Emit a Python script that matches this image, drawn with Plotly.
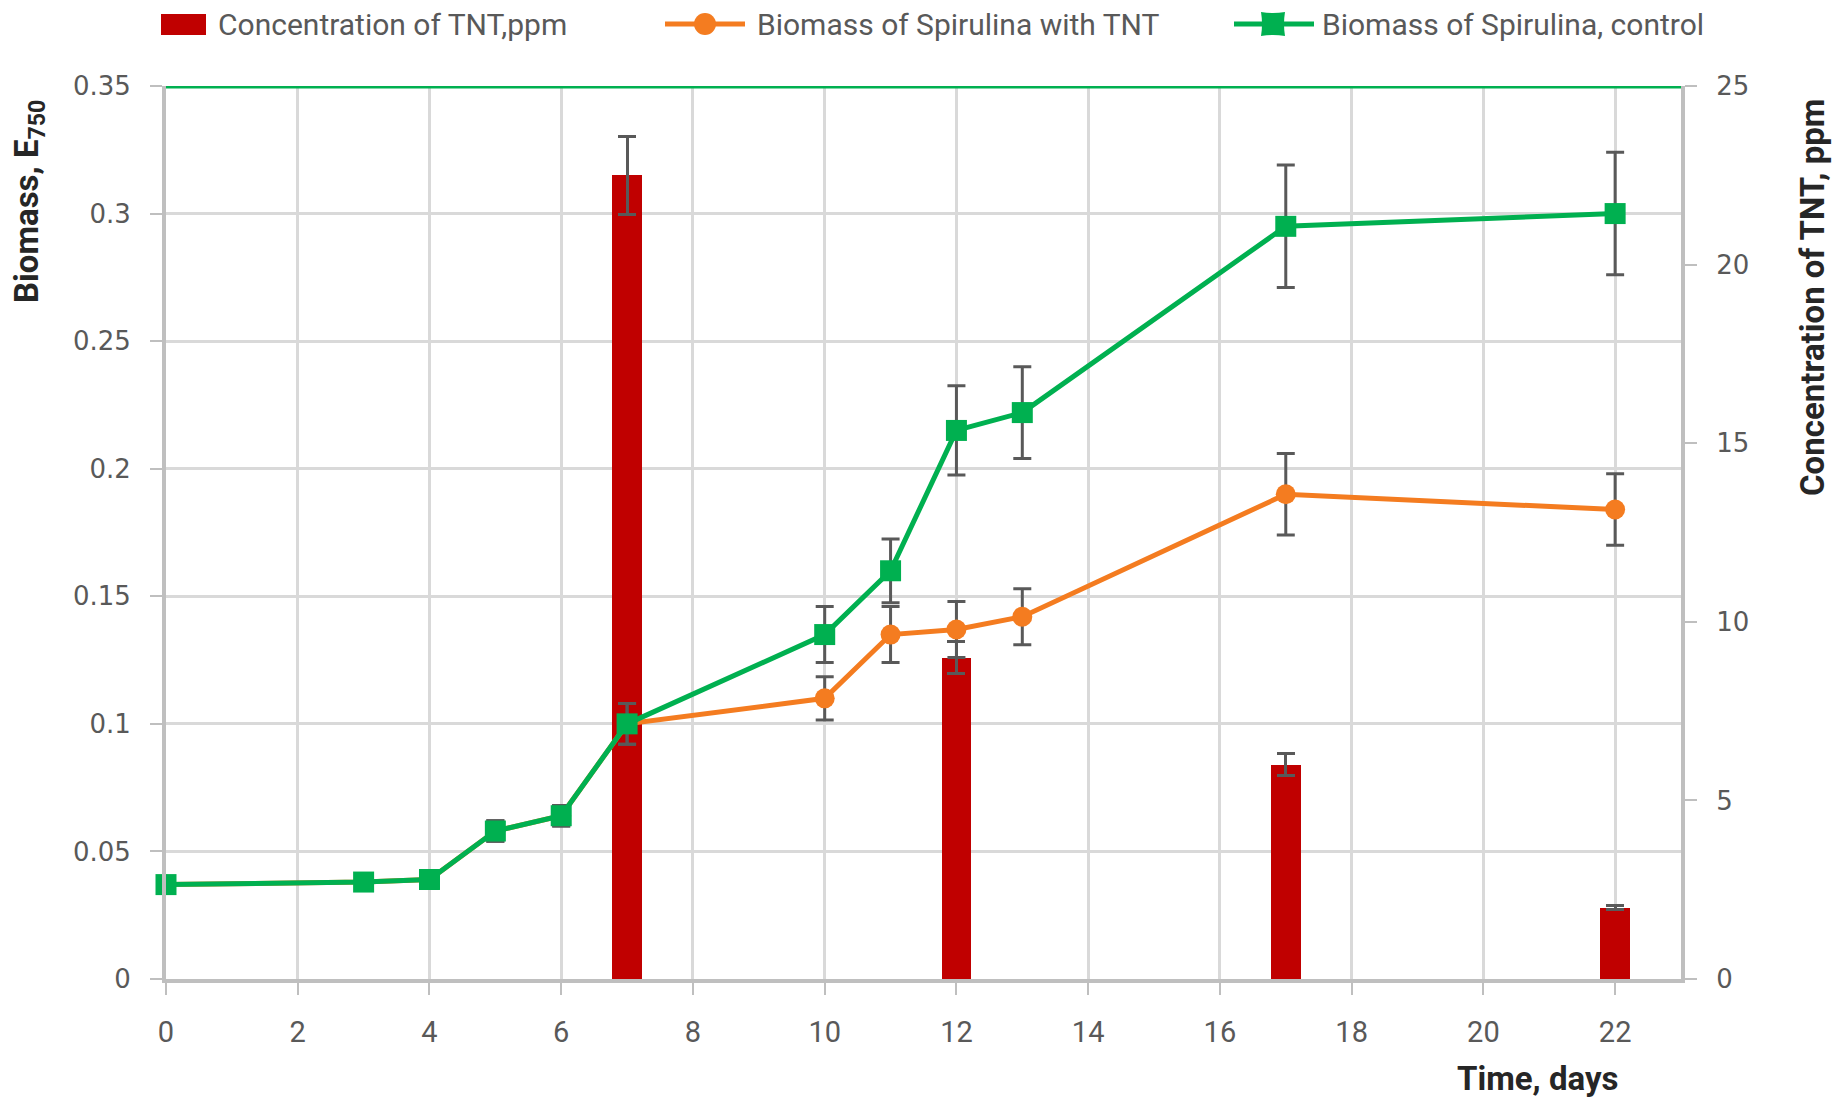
import plotly.graph_objects as go

# ---- data ----
days = [0, 3, 4, 5, 6, 7, 10, 11, 12, 13, 17, 22]
biomass_control = [0.037, 0.038, 0.039, 0.058, 0.064, 0.100, 0.135, 0.160, 0.215, 0.222, 0.295, 0.300]
biomass_control_err = [0.002, 0.002, 0.002, 0.004, 0.004, 0.008, 0.011, 0.0125, 0.0175, 0.018, 0.024, 0.024]
biomass_tnt = [0.037, 0.038, 0.039, 0.058, 0.064, 0.100, 0.110, 0.135, 0.137, 0.142, 0.190, 0.184]
biomass_tnt_err = [0.002, 0.002, 0.002, 0.004, 0.004, 0.008, 0.0085, 0.011, 0.011, 0.011, 0.016, 0.014]

tnt_days = [7, 12, 17, 22]
tnt_conc = [22.5, 9.0, 6.0, 2.0]
tnt_conc_err = [1.1, 0.45, 0.3, 0.06]

biomass_ticks = [0, 0.05, 0.1, 0.15, 0.2, 0.25, 0.3, 0.35]
biomass_ticktext = ["0", "0.05", "0.1", "0.15", "0.2", "0.25", "0.3", "0.35"]

names = ["Concentration of TNT,ppm", "Biomass of Spirulina with TNT", "Biomass of Spirulina, control"]

# ---- style ----
W, H = 1847, 1097
L, R, T, B = 166, 1681, 86, 979
RED, ORANGE, GREEN = "#c00000", "#f47c20", "#00b050"
ERR = "#595959"
AXIS = "#bfbfbf"
GRID = "#d9d9d9"
NARROW = "Roboto, sans-serif"
ROUND = "DejaVu Sans, Open Sans, sans-serif"


def px(xp):
    return (xp - L) / (R - L)


def py(yp):
    return (B - yp) / (B - T)


err_style = dict(color=ERR, thickness=3, width=9)

fig = go.Figure()

# TNT concentration bars on the right-hand axis (drawn underneath)
fig.add_trace(go.Bar(
    x=tnt_days, y=tnt_conc, name=names[0], width=0.45,
    marker=dict(color=RED, line=dict(width=0)),
    error_y=dict(type="data", array=tnt_conc_err, **err_style),
    xaxis="x", yaxis="y", showlegend=False,
))

# biomass curves on the left-hand axis (overlaid on top)
fig.add_trace(go.Scatter(
    x=days, y=biomass_tnt, name=names[1], mode="lines+markers",
    line=dict(color=ORANGE, width=5),
    marker=dict(symbol="circle", size=20, color=ORANGE),
    error_y=dict(type="data", array=biomass_tnt_err, **err_style),
    xaxis="x", yaxis="y2", cliponaxis=False, showlegend=False,
))
fig.add_trace(go.Scatter(
    x=days, y=biomass_control, name=names[2], mode="lines+markers",
    line=dict(color=GREEN, width=5),
    marker=dict(symbol="square", size=21, color=GREEN),
    error_y=dict(type="data", array=biomass_control_err, **err_style),
    xaxis="x", yaxis="y2", cliponaxis=False, showlegend=False,
))

shapes = [
    # green top border at 0.35
    dict(type="line", xref="x", yref="y2", x0=0, x1=23, y0=0.35, y1=0.35,
         line=dict(color=GREEN, width=5), layer="above"),
]

# legend row
ly = py(24)
shapes.append(dict(type="rect", xref="paper", yref="paper",
                   x0=px(161), x1=px(206), y0=py(35), y1=py(14),
                   fillcolor=RED, line=dict(width=0)))
shapes.append(dict(type="line", xref="paper", yref="paper",
                   x0=px(665), x1=px(745), y0=ly, y1=ly,
                   line=dict(color=ORANGE, width=5)))
shapes.append(dict(type="circle", xref="paper", yref="paper",
                   xsizemode="pixel", ysizemode="pixel",
                   xanchor=px(705), yanchor=ly, x0=-11, x1=11, y0=-11, y1=11,
                   fillcolor=ORANGE, line=dict(width=0)))
shapes.append(dict(type="line", xref="paper", yref="paper",
                   x0=px(1234), x1=px(1314), y0=ly, y1=ly,
                   line=dict(color=GREEN, width=5)))
shapes.append(dict(type="path", xref="paper", yref="paper",
                   xsizemode="pixel", ysizemode="pixel",
                   xanchor=px(1273), yanchor=ly,
                   path="M-12,-12 Q0,-10 12,-12 Q10,0 12,12 Q0,10 -12,12 Q-10,0 -12,-12 Z",
                   fillcolor=GREEN, line=dict(width=0)))

legend_font = dict(family=NARROW, size=30, color="#595959")
annotations = [
    dict(text=names[0], x=px(216), y=ly, xref="paper", yref="paper",
         xanchor="left", yanchor="middle", showarrow=False, font=legend_font),
    dict(text=names[1], x=px(755), y=ly, xref="paper", yref="paper",
         xanchor="left", yanchor="middle", showarrow=False, font=legend_font),
    dict(text=names[2], x=px(1320), y=ly, xref="paper", yref="paper",
         xanchor="left", yanchor="middle", showarrow=False, font=legend_font),
]

title_font = dict(family=NARROW, size=33, color="#262626")
annotations += [
    dict(text="<b>Biomass, E<sub>750</sub></b>", x=px(29), y=py(202),
         xref="paper", yref="paper", textangle=-90, showarrow=False,
         xanchor="center", yanchor="middle", font=title_font),
    dict(text="<b>Concentration of TNT, ppm</b>", x=px(1812), y=py(298),
         xref="paper", yref="paper", textangle=-90, showarrow=False,
         xanchor="center", yanchor="middle", font=title_font),
    dict(text="<b>Time, days</b>", x=px(1537), y=py(1078),
         xref="paper", yref="paper", showarrow=False,
         xanchor="center", yanchor="middle", font=title_font),
]

fig.update_layout(
    width=W, height=H,
    margin=dict(l=L, r=W - R, t=T, b=H - B, pad=0),
    paper_bgcolor="white", plot_bgcolor="white",
    showlegend=False,
    bargap=0,
    xaxis=dict(
        range=[0, 23], tick0=0, dtick=2,
        showgrid=True, gridcolor=GRID, gridwidth=2.5, zeroline=False,
        showline=True, linecolor=AXIS, linewidth=4,
        ticks="outside", ticklen=12, tickwidth=2, tickcolor=AXIS,
        ticklabelstandoff=12,
        tickfont=dict(family=NARROW, size=29, color="#595959"),
    ),
    yaxis=dict(
        side="right", range=[0, 25], tick0=0, dtick=5,
        showgrid=False, zeroline=False,
        showline=True, linecolor=AXIS, linewidth=4,
        ticks="outside", ticklen=12, tickwidth=2, tickcolor=AXIS,
        ticklabelstandoff=14,
        tickfont=dict(family=ROUND, size=26, color="#595959"),
    ),
    yaxis2=dict(
        overlaying="y", side="left", range=[0, 0.35],
        tickvals=biomass_ticks, ticktext=biomass_ticktext,
        showgrid=True, gridcolor=GRID, gridwidth=2.5, zeroline=False,
        showline=True, linecolor=AXIS, linewidth=4,
        ticks="outside", ticklen=12, tickwidth=2, tickcolor=AXIS,
        ticklabelstandoff=14,
        tickfont=dict(family=ROUND, size=26, color="#595959"),
    ),
    shapes=shapes,
    annotations=annotations,
)

fig.write_html("out.html")
